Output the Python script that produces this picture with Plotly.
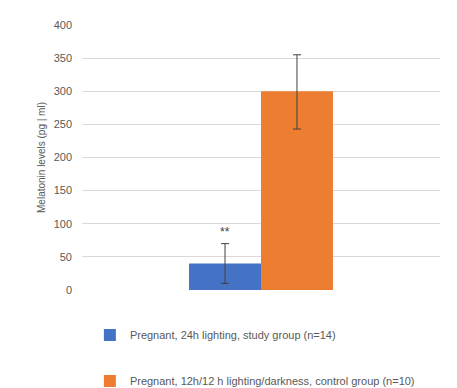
import plotly.graph_objects as go

categories = [""]
series_names = [
    "Pregnant, 24h lighting, study group (n=14)",
    "Pregnant, 12h/12 h lighting/darkness, control group (n=10)",
]
series_values = [[40], [300]]
error_plus = [[30], [55]]
error_minus = [[30], [57]]
series_colors = ["#4472C4", "#ED7D31"]
y_ticks = [0, 50, 100, 150, 200, 250, 300, 350, 400]
significance_label = "**"

font_family = "Liberation Sans, Arial, sans-serif"
text_color = "#595959"

fig = go.Figure()
for i, name in enumerate(series_names):
    fig.add_trace(go.Bar(
        x=categories,
        y=series_values[i],
        name=name,
        legendgroup=f"g{i}",
        marker=dict(color=series_colors[i], line=dict(width=0)),
        error_y=dict(type="data", symmetric=False,
                     array=error_plus[i], arrayminus=error_minus[i],
                     color="#404040", thickness=1, width=4),
    ))

# significance marker above the first bar's error bar
fig.add_annotation(
    x=-0.1, y=series_values[0][0] + error_plus[0][0] + 17,
    xref="x", yref="y", text=significance_label, showarrow=False,
    font=dict(family=font_family, size=12, color="#404040"),
)

fig.update_layout(
    width=457, height=388,
    margin=dict(l=74, r=25, t=17, b=106, autoexpand=False),
    paper_bgcolor="white", plot_bgcolor="white",
    barmode="group", bargap=0.598, bargroupgap=0,
    font=dict(family=font_family, size=10, color=text_color),
    showlegend=True,
    legend=dict(
        orientation="v", x=0.022, y=-0.115, xanchor="left", yanchor="top",
        font=dict(family=font_family, size=11, color=text_color),
        tracegroupgap=27, traceorder="grouped",
        bgcolor="rgba(0,0,0,0)",
    ),
    xaxis=dict(showticklabels=False, showgrid=False, zeroline=False,
               showline=False, ticks="", automargin=False),
    yaxis=dict(
        range=[0, 400], tickvals=y_ticks, ticktext=[str(v) for v in y_ticks],
        showgrid=True, gridcolor="#D9D9D9", gridwidth=1,
        zeroline=False, showline=False, ticks="", ticklen=0,
        ticklabelstandoff=9, automargin=False,
        tickfont=dict(family=font_family, size=11, color=text_color),
        title=dict(text="Melatonin levels (pg | ml)", standoff=6,
                   font=dict(family=font_family, size=10, color=text_color)),
    ),
)

fig.write_html("out.html")
